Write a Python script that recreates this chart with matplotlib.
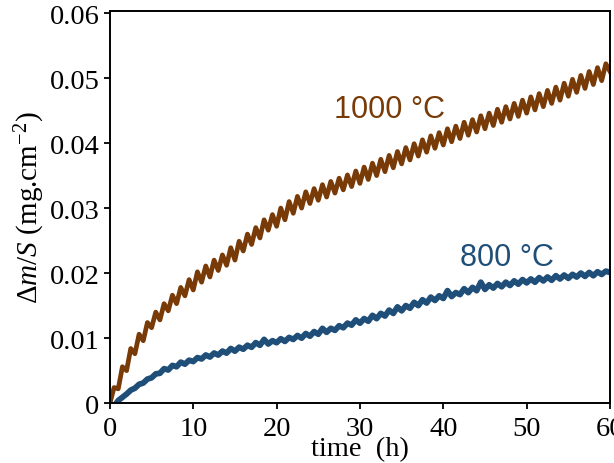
import matplotlib.pyplot as plt
import numpy as np

# mass gain (mg.cm-2, x1e-3), sampled every 0.5 h from 0 to 60 h
gain_1000 = [
    0.0, 2.4, 2.2, 5.6, 5.0, 8.4, 7.6, 10.6, 9.6, 12.4,
    11.6, 14.0, 12.8, 15.3, 14.2, 16.6, 15.3, 17.8, 16.5, 19.0,
    17.4, 20.2, 18.6, 21.1, 19.4, 22.0, 20.4, 22.8, 21.2, 23.9,
    22.0, 24.9, 23.4, 26.0, 24.4, 27.0, 25.4, 28.2, 26.6, 29.0,
    27.2, 30.0, 28.2, 31.0, 29.2, 31.8, 30.0, 32.5, 30.7, 33.0,
    31.2, 33.6, 31.7, 34.1, 32.3, 34.6, 32.8, 35.1, 33.3, 35.7,
    33.8, 36.3, 34.4, 36.9, 35.0, 37.5, 35.6, 38.1, 36.2, 38.7,
    36.8, 39.3, 37.4, 39.9, 38.0, 40.5, 38.6, 41.1, 39.2, 41.6,
    39.7, 42.2, 40.2, 42.6, 40.7, 43.2, 41.2, 43.6, 41.7, 44.2,
    42.2, 44.6, 42.7, 45.2, 43.2, 45.6, 43.7, 46.1, 44.1, 46.6,
    44.6, 47.1, 45.1, 47.6, 45.6, 48.1, 46.1, 48.6, 46.6, 49.2,
    47.2, 49.8, 47.8, 50.4, 48.4, 51.0, 49.0, 51.6, 49.6, 52.2,
    51.0,
]
gain_800 = [
    0.0, -0.5, 0.4, 0.9, 1.4, 2.0, 2.3, 2.9, 3.1, 3.7,
    3.9, 4.5, 4.6, 5.3, 5.1, 5.8, 5.6, 6.3, 6.0, 6.6,
    6.4, 7.0, 6.8, 7.4, 7.1, 7.7, 7.4, 8.0, 7.7, 8.4,
    8.0, 8.6, 8.3, 8.9, 8.6, 9.3, 8.9, 9.8, 9.1, 9.6,
    9.3, 9.9, 9.5, 10.1, 9.8, 10.4, 10.0, 10.7, 10.3, 11.0,
    10.6, 11.5, 10.9, 11.5, 11.2, 11.9, 11.6, 12.3, 12.0, 12.8,
    12.3, 13.0, 12.6, 13.5, 13.0, 13.8, 13.4, 14.3, 13.8, 14.8,
    14.2, 15.0, 14.6, 15.5, 15.0, 15.9, 15.4, 16.3, 15.8, 16.5,
    16.1, 17.3, 16.4, 17.0, 16.7, 17.6, 17.0, 17.8, 17.3, 18.6,
    17.5, 18.2, 17.7, 18.4, 17.9, 18.6, 18.1, 18.8, 18.3, 19.0,
    18.5, 19.1, 18.6, 19.3, 18.8, 19.4, 18.9, 19.6, 19.1, 19.7,
    19.2, 19.8, 19.4, 20.0, 19.5, 20.1, 19.6, 20.2, 19.8, 20.3,
    20.1,
]
x_ticks = [0, 10, 20, 30, 40, 50, 60]
y_ticks = [0, 0.01, 0.02, 0.03, 0.04, 0.05, 0.06]
y_labels = ["0", "0.01", "0.02", "0.03", "0.04", "0.05", "0.06"]

brown = "#783a06"
blue = "#1f4e79"

plt.rcParams["font.family"] = "Liberation Serif"
plt.rcParams["mathtext.fontset"] = "custom"
plt.rcParams["mathtext.rm"] = "Liberation Serif"
plt.rcParams["mathtext.it"] = "Liberation Serif:italic"

y1000 = np.array(gain_1000) * 1e-3
y800 = np.array(gain_800) * 1e-3
t1000 = np.linspace(0, 60, len(y1000))
t800 = np.linspace(0, 60, len(y800))

fig = plt.figure(figsize=(6.14, 4.64), dpi=100)
ax = fig.add_axes([0.179, 0.129, 0.8145, 0.845])

ax.plot(t1000, y1000, color=brown, lw=3.4, solid_joinstyle="round")
ax.plot(t800, y800, color=blue, lw=4.2, solid_joinstyle="round")

ax.text(33.6, 0.0452, "1000 °C", color=brown, fontsize=22,
        family="Liberation Sans", ha="center", va="center")
ax.text(47.6, 0.0224, "800 °C", color=blue, fontsize=22,
        family="Liberation Sans", ha="center", va="center")

ax.set_xlim(0, 60)
ax.set_ylim(0, 0.0603)
ax.set_xticks(x_ticks)
ax.set_yticks(y_ticks)
ax.set_yticklabels(y_labels)
ax.tick_params(direction="out", length=4.5, width=1.3, labelsize=20.5)
ax.tick_params(axis="x", pad=5)
ax.tick_params(axis="y", pad=3)
for s in ax.spines.values():
    s.set_linewidth(1.4)

ax.set_xlabel("time  (h)", fontsize=20.5, labelpad=-4)
ax.set_ylabel(r"$\mathit{\Delta m/S}$ (mg.cm$^{-2}$)", fontsize=21, labelpad=2)

fig.savefig("out.png", dpi=100)
